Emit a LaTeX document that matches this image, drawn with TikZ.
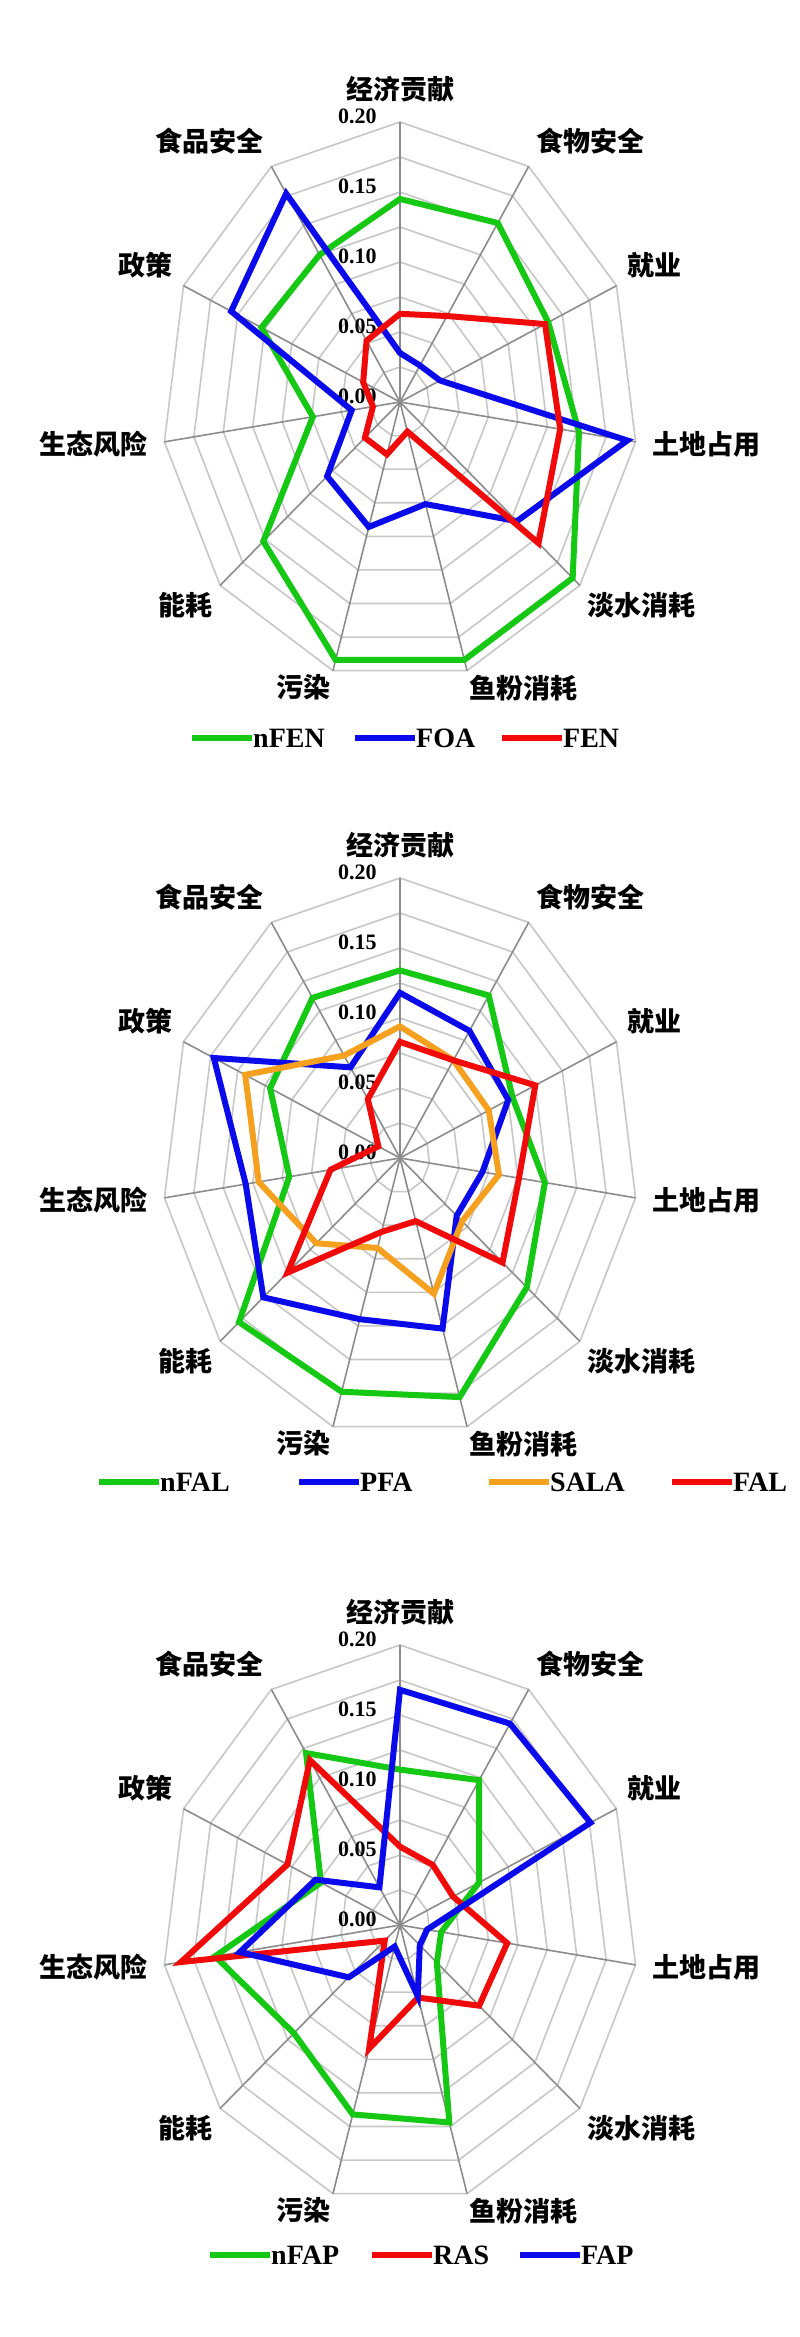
\documentclass[tikz,border=0pt]{standalone}
\usepackage{fontspec}
\setmainfont{Liberation Serif}
\newfontfamily\cjk{Noto Sans CJK SC}
\usetikzlibrary{calc}
\definecolor{sgreen}{RGB}{20,200,20}
\definecolor{sblue}{RGB}{10,10,235}
\definecolor{sred}{RGB}{240,10,10}
\definecolor{sorange}{RGB}{245,160,30}
\tikzstyle{ring}=[draw=black!22,line width=1.6pt]
\tikzstyle{spoke}=[draw=black!45,line width=1.6pt]
\tikzstyle{series}=[line width=6pt,line join=miter]
\tikzstyle{axislabel}=[font=\cjk\bfseries\fontsize{27}{30}\selectfont,inner sep=2pt]
\tikzstyle{ticklabel}=[font=\bfseries\fontsize{22}{24}\selectfont,anchor=east,inner sep=1pt]
\tikzstyle{legendtext}=[font=\bfseries\fontsize{28}{30}\selectfont,anchor=west,inner sep=1pt]

% one chart frame: rings, spokes, labels
\newcommand{\radarframe}{
    \foreach \k in {1,...,8}
        \draw[ring] (90:\k*35) \foreach \i in {1,...,10} {-- ({90-\i*360/11}:\k*35)} -- cycle;
    \foreach \name/\anc/\dist [count=\i] in {经济贡献/south/298, 食物安全/south west/292, 就业/south west/292,
            土地占用/west/298, 淡水消耗/north west/288, 鱼粉消耗/north west/282, 污染/north east/282,
            能耗/north east/288, 生态风险/east/298, 政策/south east/292, 食品安全/south east/292} {
        \pgfmathsetmacro\ang{90-(\i-1)*360/11}
        \draw[spoke] (0,0) -- (\ang:280);
        \node[axislabel, anchor=\anc] (lab\i) at (\ang:\dist) {\name};
    }
    \foreach \t/\r in {0.00/0, 0.05/70, 0.10/140, 0.15/210, 0.20/280}
        \node[ticklabel] (tick\r) at (-26,\r+6) {\t};
}
% one series: colour, 11 values
\newcommand{\radarseries}[2]{
    \foreach \v [count=\i] in {#2}
        \coordinate (p\i) at ({90-(\i-1)*360/11}:\v*1400);
    \draw[series,#1] (p1) \foreach \i in {2,...,11} {-- (p\i)} -- cycle;
}

\begin{document}
\begin{tikzpicture}[x=1pt,y=1pt]
    \useasboundingbox[fill=white] (0,-2337) rectangle (800,0);

    % chart 1
    \begin{scope}[shift={(400,-402)},xscale=0.85]
        \radarframe
        \radarseries{sgreen}{0.145,0.152,0.137,0.152,0.192,0.192,0.192,0.152,0.074,0.128,0.125}
        \radarseries{sblue}{0.035,0.031,0.037,0.193,0.13,0.076,0.093,0.081,0.041,0.156,0.177}
        \radarseries{sred}{0.063,0.073,0.134,0.136,0.154,0.022,0.039,0.039,0.023,0.034,0.052}
    \end{scope}
    \foreach \x/\c/\name in {192/sgreen/nFEN, 355/sblue/FOA, 502/sred/FEN} {
        \coordinate (leg\name) at (\x,-738);
        \draw[line width=6pt,\c] (leg\name) -- ++(60,0) coordinate (end\name);
        \node[legendtext] (txt\name) at (end\name) {\name};
    }

    % chart 2
    \begin{scope}[shift={(400,-1158)},xscale=0.85]
        \radarframe
        \radarseries{sgreen}{0.134,0.138,0.104,0.123,0.141,0.178,0.174,0.179,0.094,0.12,0.136}
        \radarseries{sblue}{0.118,0.108,0.10,0.07,0.063,0.127,0.12,0.152,0.131,0.172,0.077}
        \radarseries{sorange}{0.094,0.083,0.082,0.084,0.069,0.101,0.067,0.093,0.12,0.143,0.087}
        \radarseries{sred}{0.083,0.083,0.125,0.101,0.114,0.047,0.055,0.125,0.059,0.02,0.05}
    \end{scope}
    \foreach \x/\c/\name in {99/sgreen/nFAL, 299/sblue/PFA, 489/sorange/SALA, 672/sred/FAL} {
        \coordinate (leg\name) at (\x,-1482);
        \draw[line width=6pt,\c] (leg\name) -- ++(60,0) coordinate (end\name);
        \node[legendtext] (txt\name) at (end\name) {\name};
    }

    % chart 3
    \begin{scope}[shift={(400,-1925)},xscale=0.85]
        \radarframe
        \radarseries{sgreen}{0.111,0.123,0.073,0.035,0.041,0.147,0.141,0.118,0.157,0.073,0.146}
        \radarseries{sred}{0.056,0.051,0.049,0.091,0.088,0.054,0.092,0.017,0.186,0.104,0.14}
        \radarseries{sblue}{0.168,0.171,0.176,0.023,0.022,0.053,0.016,0.057,0.136,0.078,0.032}
    \end{scope}
    \foreach \x/\c/\name in {210/sgreen/nFAP, 372/sred/RAS, 520/sblue/FAP} {
        \coordinate (leg\name) at (\x,-2255);
        \draw[line width=6pt,\c] (leg\name) -- ++(60,0) coordinate (end\name);
        \node[legendtext] (txt\name) at (end\name) {\name};
    }
\end{tikzpicture}
\end{document}
